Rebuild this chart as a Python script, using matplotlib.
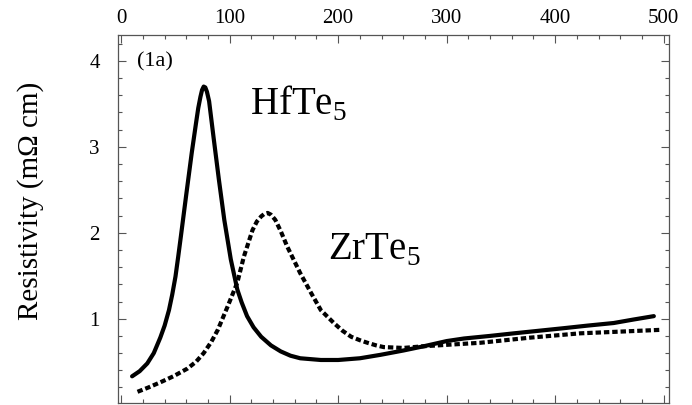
import matplotlib
matplotlib.use("Agg")
import matplotlib.pyplot as plt
from matplotlib.ticker import MultipleLocator

# Data (temperature in K, resistivity in mOhm cm)
hf_T = [10, 17, 24, 30, 36, 40, 44, 47, 50, 52.5, 55, 60, 65, 69, 71, 73,
        74.5, 76, 77.5, 79, 81, 85, 90, 95, 101, 107, 111, 116, 122, 129, 138,
        147, 156, 165, 184, 200, 220, 239, 260, 279, 300, 316, 340, 362, 385,
        408, 430, 454, 472, 491]
hf_rho = [0.33, 0.39, 0.48, 0.60, 0.78, 0.92, 1.10, 1.28, 1.49, 1.72, 1.96,
          2.45, 2.93, 3.28, 3.45, 3.58, 3.66, 3.70, 3.69, 3.64, 3.53, 3.12,
          2.62, 2.15, 1.69, 1.34, 1.19, 1.03, 0.90, 0.79, 0.69, 0.62, 0.57,
          0.54, 0.52, 0.52, 0.54, 0.58, 0.63, 0.68, 0.74, 0.77, 0.80, 0.83,
          0.86, 0.89, 0.92, 0.95, 0.99, 1.03]

zr_T = [15, 25, 36, 48, 61, 69, 76, 83, 89, 98, 107, 113, 121, 125, 129, 132,
        135, 138, 142, 147, 153, 165, 175, 184, 196, 204, 212, 220, 227, 235,
        242, 260, 279, 305, 331, 377, 423, 460, 496]
zr_rho = [0.15, 0.20, 0.26, 0.33, 0.42, 0.50, 0.60, 0.73, 0.87, 1.14, 1.42,
          1.72, 2.03, 2.13, 2.19, 2.22, 2.23, 2.21, 2.15, 2.02, 1.84, 1.53,
          1.30, 1.10, 0.95, 0.86, 0.79, 0.75, 0.72, 0.69, 0.67, 0.66, 0.68,
          0.70, 0.72, 0.78, 0.83, 0.85, 0.87]

plt.rcParams['font.family'] = 'Liberation Serif'
plt.rcParams['mathtext.fontset'] = 'custom'
plt.rcParams['mathtext.rm'] = 'Liberation Serif'

fig = plt.figure(figsize=(6.92, 4.05), dpi=100)
ax = fig.add_axes([0.1705, 0.005, 0.7963, 0.9086])

ax.plot(hf_T, hf_rho, color='black', lw=3.0, solid_capstyle='round',
        solid_joinstyle='round')
ax.plot(zr_T, zr_rho, color='black', lw=3.0, dashes=(1.3, 0.7),
        dash_capstyle='butt', dash_joinstyle='round')

ax.set_xlim(-3, 505)
ax.set_ylim(0.02, 4.3)
ax.xaxis.set_major_locator(MultipleLocator(100))
ax.xaxis.set_minor_locator(MultipleLocator(20))
ax.yaxis.set_major_locator(MultipleLocator(1))
ax.yaxis.set_minor_locator(MultipleLocator(0.2))
ax.tick_params(which='both', direction='in', top=True, right=True,
               labeltop=True, labelbottom=False, color='#555555',
               labelsize=15)
ax.tick_params(axis='y', pad=13)
ax.tick_params(axis='x', pad=5)
ax.tick_params(which='major', length=6, width=0.8)
ax.tick_params(which='minor', length=3, width=0.8)
for s in ax.spines.values():
    s.set_color('#555555')
    s.set_linewidth(0.9)

ax.set_ylabel('Resistivity (m\u03a9 cm)', fontsize=21)
ax.yaxis.set_label_coords(-0.134, 0.55)

ax.text(0.034, 0.927, '(1a)', transform=ax.transAxes, fontsize=16,
        va='center', ha='left')
ax.text(119, 3.37, r'HfTe$_\mathrm{5}$', fontsize=28, va='baseline', ha='left')
ax.text(191, 1.69, r'ZrTe$_\mathrm{5}$', fontsize=28, va='baseline', ha='left')

fig.savefig('out.png', dpi=100)
